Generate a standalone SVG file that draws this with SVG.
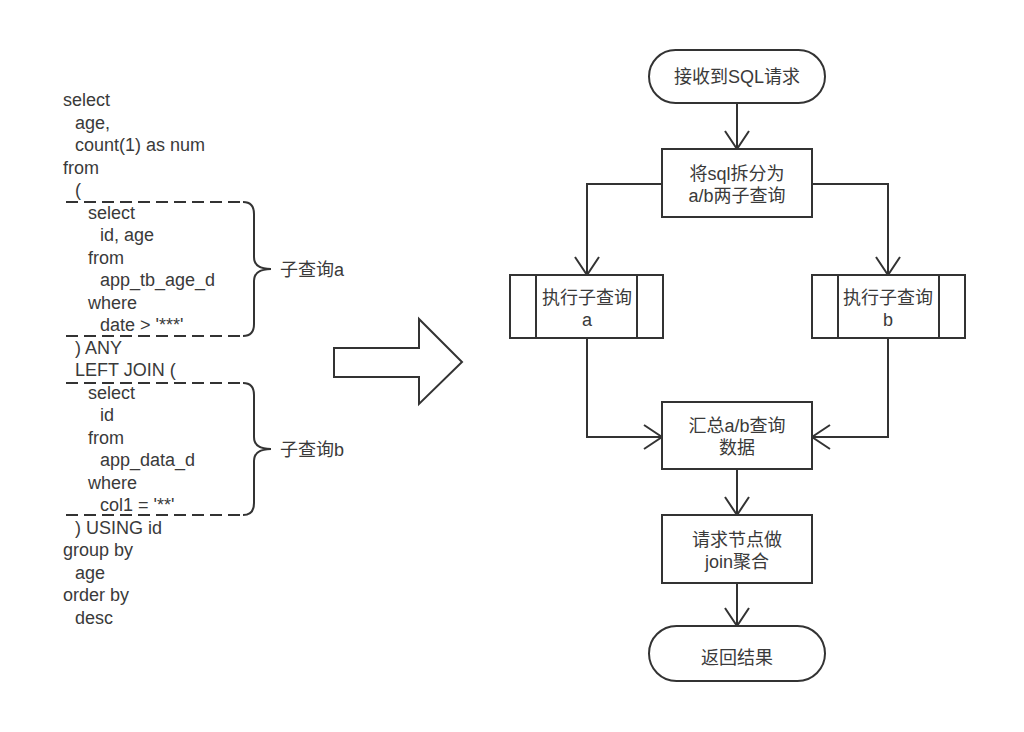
<svg xmlns="http://www.w3.org/2000/svg" width="1024" height="732" viewBox="0 0 1024 732">
<style>
.sql{font-family:"Liberation Sans","Noto Sans CJK SC",sans-serif;font-size:18px;fill:#3a3a3a}
.lbl{font-family:"Liberation Sans","Noto Sans CJK SC",sans-serif;font-size:18px;fill:#3a3a3a;text-anchor:middle}
.side{font-family:"Liberation Sans","Noto Sans CJK SC",sans-serif;font-size:18px;fill:#3a3a3a}
.shape{fill:#fff;stroke:#333;stroke-width:2}
.line{fill:none;stroke:#333;stroke-width:2}
.dash{fill:none;stroke:#333;stroke-width:2;stroke-dasharray:12 6}
</style>
<defs>
<marker id="arr" viewBox="0 0 20 26" refX="19" refY="13" markerWidth="20" markerHeight="26" markerUnits="userSpaceOnUse" orient="auto">
<path d="M1,1 L19,13 L1,25" fill="none" stroke="#333" stroke-width="2"/>
</marker>
</defs>
<rect width="1024" height="732" fill="#fff"/>
<g id="sql-text">
<text class="sql" x="63" y="106">select</text>
<text class="sql" x="75" y="128.5">age,</text>
<text class="sql" x="75" y="151">count(1) as num</text>
<text class="sql" x="63" y="173.5">from</text>
<text class="sql" x="75" y="196">(</text>
<text class="sql" x="88" y="218.5">select</text>
<text class="sql" x="100" y="241">id, age</text>
<text class="sql" x="88" y="263.5">from</text>
<text class="sql" x="100" y="286">app_tb_age_d</text>
<text class="sql" x="88" y="308.5">where</text>
<text class="sql" x="100" y="331">date &gt; '***'</text>
<text class="sql" x="75" y="353.5">) ANY</text>
<text class="sql" x="75" y="376">LEFT JOIN (</text>
<text class="sql" x="88" y="398.5">select</text>
<text class="sql" x="100" y="421">id</text>
<text class="sql" x="88" y="443.5">from</text>
<text class="sql" x="100" y="466">app_data_d</text>
<text class="sql" x="88" y="488.5">where</text>
<text class="sql" x="100" y="511">col1 = '**'</text>
<text class="sql" x="75" y="533.5">) USING id</text>
<text class="sql" x="63" y="556">group by</text>
<text class="sql" x="75" y="578.5">age</text>
<text class="sql" x="63" y="601">order by</text>
<text class="sql" x="75" y="623.5">desc</text>
</g>
<g id="subquery-a">
<line class="dash" x1="66" y1="202" x2="243" y2="202"/>
<line class="dash" x1="66" y1="336" x2="243" y2="336"/>
<path class="line" d="M243,202 Q254,202 254,214 L254,257 Q254,269 271,269 Q254,269 254,281 L254,324 Q254,336 243,336"/>
<text class="side" x="280" y="275.5">子查询a</text>
</g>
<g id="subquery-b">
<line class="dash" x1="66" y1="383" x2="243" y2="383"/>
<line class="dash" x1="66" y1="515" x2="243" y2="515"/>
<path class="line" d="M243,383 Q254,383 254,395 L254,437 Q254,449 271,449 Q254,449 254,461 L254,503 Q254,515 243,515"/>
<text class="side" x="280" y="455.5">子查询b</text>
</g>
<g id="big-arrow">
<path class="shape" d="M334,348 L419,348 L419,319 L462,362 L419,404 L419,377 L334,377 Z"/>
</g>
<g id="connectors">
<line class="line" x1="737" y1="103" x2="737" y2="149" marker-end="url(#arr)"/>
<polyline class="line" points="662,184 587,184 587,275" marker-end="url(#arr)"/>
<polyline class="line" points="812,184 888,184 888,275" marker-end="url(#arr)"/>
<polyline class="line" points="587,338 587,437 662,437" marker-end="url(#arr)"/>
<polyline class="line" points="888,338 888,437 812,437" marker-end="url(#arr)"/>
<line class="line" x1="737" y1="469" x2="737" y2="515" marker-end="url(#arr)"/>
<line class="line" x1="737" y1="583" x2="737" y2="626" marker-end="url(#arr)"/>
</g>
<g id="start">
<rect class="shape" x="649" y="50" width="176" height="53" rx="26.5" ry="26.5"/>
<text class="lbl" x="737" y="83">接收到SQL请求</text>
</g>
<g id="split">
<rect class="shape" x="662" y="149" width="150" height="68"/>
<text class="lbl" x="737" y="179.5">将sql拆分为</text>
<text class="lbl" x="737" y="201.5">a/b两子查询</text>
</g>
<g id="exec-a">
<rect class="shape" x="510" y="275" width="153" height="63"/>
<line class="line" x1="536" y1="275" x2="536" y2="338"/>
<line class="line" x1="637" y1="275" x2="637" y2="338"/>
<text class="lbl" x="587" y="303.5">执行子查询</text>
<text class="lbl" x="587" y="326">a</text>
</g>
<g id="exec-b">
<rect class="shape" x="812" y="275" width="153" height="63"/>
<line class="line" x1="838" y1="275" x2="838" y2="338"/>
<line class="line" x1="939" y1="275" x2="939" y2="338"/>
<text class="lbl" x="888" y="303.5">执行子查询</text>
<text class="lbl" x="888" y="326">b</text>
</g>
<g id="merge">
<rect class="shape" x="662" y="402" width="150" height="67"/>
<text class="lbl" x="737" y="431.5">汇总a/b查询</text>
<text class="lbl" x="737" y="454">数据</text>
</g>
<g id="join">
<rect class="shape" x="662" y="515" width="150" height="68"/>
<text class="lbl" x="737" y="545.5">请求节点做</text>
<text class="lbl" x="737" y="568">join聚合</text>
</g>
<g id="end">
<rect class="shape" x="649" y="626" width="176" height="55" rx="27.5" ry="27.5"/>
<text class="lbl" x="737" y="663.5">返回结果</text>
</g>
</svg>
